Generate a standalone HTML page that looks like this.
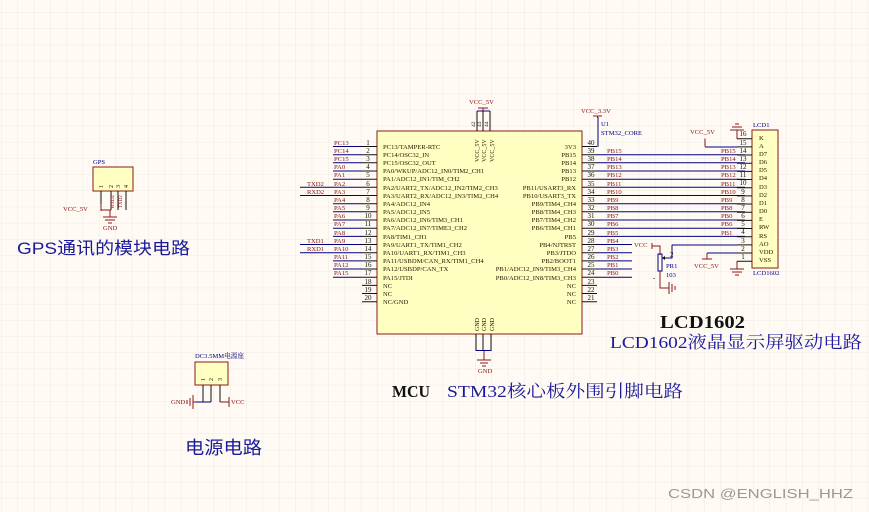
<!DOCTYPE html>
<html><head><meta charset="utf-8"><style>
html,body{margin:0;padding:0;background:#fffaf3}
svg{display:block}
.s{font-family:"Liberation Serif","Noto Serif CJK SC",serif}
.n{font-size:7px;fill:#111}
.p{font-size:6.6px;fill:#2a1400}
.r{font-size:6.6px;fill:#8a1010}
</style></head><body>
<svg width="869" height="512" viewBox="0 0 869 512" xmlns="http://www.w3.org/2000/svg">
<defs>
<pattern id="g" x="1" y="12.3" width="16.35" height="16.2" patternUnits="userSpaceOnUse">
<path d="M0 0V16.2M0 0H16.35" stroke="#eeebe5" stroke-width="1.1" fill="none"/>
</pattern>
</defs>
<rect width="869" height="512" fill="#fffaf3"/>
<rect width="869" height="512" fill="url(#g)"/>

<rect x="377" y="131" width="205" height="203" fill="#ffffc2" stroke="#8b1a1a" stroke-width="1"/>

<g class="s">
<g stroke-width="1" fill="none">
<path stroke="#111" d="M362 146.5h15M362 154.7h15M362 162.8h15M362 171h15M362 179.2h15M362 187.3h15M362 195.5h15M362 203.7h15M362 211.8h15M362 220h15M362 228.2h15M362 236.4h15M362 244.5h15M362 252.7h15M362 260.9h15M362 269h15M362 277.2h15M362 285.4h15M362 293.5h15M362 301.7h15"/>
<path stroke="#000080" d="M333 146.5h29M333 154.7h29M333 162.8h29M333 171h29M333 179.2h29M300 187.3h62M300 195.5h62M333 203.7h29M333 211.8h29M333 220h29M333 228.2h29M333 236.4h29M300 244.5h62M300 252.7h62M333 260.9h29M333 269h29M333 277.2h29"/>
</g>
<g class="n" text-anchor="middle">
<text x="368" y="145">1</text><text x="368" y="153">2</text><text x="368" y="161">3</text><text x="368" y="169">4</text><text x="368" y="177">5</text><text x="368" y="186">6</text><text x="368" y="194">7</text><text x="368" y="202">8</text><text x="368" y="210">9</text><text x="368" y="218">10</text><text x="368" y="226">11</text><text x="368" y="235">12</text><text x="368" y="243">13</text><text x="368" y="251">14</text><text x="368" y="259">15</text><text x="368" y="267">16</text><text x="368" y="275">17</text><text x="368" y="284">18</text><text x="368" y="292">19</text><text x="368" y="300">20</text>
</g>
<g class="r">
<text x="334" y="145">PC13</text><text x="334" y="153">PC14</text><text x="334" y="161">PC15</text><text x="334" y="169">PA0</text><text x="334" y="177">PA1</text><text x="334" y="186">PA2</text><text x="334" y="194">PA3</text><text x="334" y="202">PA4</text><text x="334" y="210">PA5</text><text x="334" y="218">PA6</text><text x="334" y="226">PA7</text><text x="334" y="235">PA8</text><text x="334" y="243">PA9</text><text x="334" y="251">PA10</text><text x="334" y="259">PA11</text><text x="334" y="267">PA12</text><text x="334" y="275">PA15</text>
<text x="307" y="186">TXD2</text><text x="307" y="194">RXD2</text><text x="307" y="243">TXD1</text><text x="307" y="251">RXD1</text>
</g>
<g class="p">
<text x="383" y="149">PC13/TAMPER-RTC</text><text x="383" y="157">PC14/OSC32_IN</text><text x="383" y="165">PC15/OSC32_OUT</text><text x="383" y="173">PA0/WKUP/ADC12_IN0/TIM2_CH1</text><text x="383" y="181">PA1/ADC12_IN1/TIM_CH2</text><text x="383" y="190">PA2/UART2_TX/ADC12_IN2/TIM2_CH3</text><text x="383" y="198">PA3/UART2_RX/ADC12_IN3/TIM2_CH4</text><text x="383" y="206">PA4/ADC12_IN4</text><text x="383" y="214">PA5/ADC12_IN5</text><text x="383" y="222">PA6/ADC12_IN6/TIM3_CH1</text><text x="383" y="230">PA7/ADC12_IN7/TIME3_CH2</text><text x="383" y="239">PA8/TIM1_CH1</text><text x="383" y="247">PA9/UART1_TX/TIM1_CH2</text><text x="383" y="255">PA10/UART1_RX/TIM1_CH3</text><text x="383" y="263">PA11/USBDM/CAN_RX/TIM1_CH4</text><text x="383" y="271">PA12/USBDP/CAN_TX</text><text x="383" y="280">PA15/JTDI</text><text x="383" y="288">NC</text><text x="383" y="296">NC</text><text x="383" y="304">NC/GND</text>
</g>
<g class="p" text-anchor="end">
<text x="576" y="149">3V3</text><text x="576" y="157">PB15</text><text x="576" y="165">PB14</text><text x="576" y="173">PB13</text><text x="576" y="181">PB12</text><text x="576" y="190">PB11/USART3_RX</text><text x="576" y="198">PB10/USART3_TX</text><text x="576" y="206">PB9/TIM4_CH4</text><text x="576" y="214">PB8/TIM4_CH3</text><text x="576" y="222">PB7/TIM4_CH2</text><text x="576" y="230">PB6/TIM4_CH1</text><text x="576" y="239">PB5</text><text x="576" y="247">PB4/NJTRST</text><text x="576" y="255">PB3/JTDO</text><text x="576" y="263">PB2/BOOT1</text><text x="576" y="271">PB1/ADC12_IN9/TIM3_CH4</text><text x="576" y="280">PB0/ADC12_IN8/TIM3_CH3</text><text x="576" y="288">NC</text><text x="576" y="296">NC</text><text x="576" y="304">NC</text>
</g>
<path stroke="#111" fill="none" d="M582 146.5h15M582 154.7h15M582 162.8h15M582 171h15M582 179.2h15M582 187.3h15M582 195.5h15M582 203.7h15M582 211.8h15M582 220h15M582 228.2h15M582 236.4h15M582 244.5h15M582 252.7h15M582 260.9h15M582 269h15M582 277.2h15M582 285.4h15M582 293.5h15M582 301.7h15"/>
<path stroke="#000080" fill="none" d="M597 154.7h148M597 162.8h148M597 171h148M597 179.2h148M597 187.3h148M597 195.5h148M597 203.7h148M597 211.8h148M597 220h148M597 228.2h148M597 236.4h148M597 244.5h35M597 252.7h35M597 260.9h35M597 269h35M597 277.2h35M598 147V117"/>
<g class="n" text-anchor="middle">
<text x="591" y="145">40</text><text x="591" y="153">39</text><text x="591" y="161">38</text><text x="591" y="169">37</text><text x="591" y="177">36</text><text x="591" y="186">35</text><text x="591" y="194">34</text><text x="591" y="202">33</text><text x="591" y="210">32</text><text x="591" y="218">31</text><text x="591" y="226">30</text><text x="591" y="235">29</text><text x="591" y="243">28</text><text x="591" y="251">27</text><text x="591" y="259">26</text><text x="591" y="267">25</text><text x="591" y="275">24</text><text x="591" y="284">23</text><text x="591" y="292">22</text><text x="591" y="300">21</text>
</g>
<g class="r">
<text x="607" y="153">PB15</text><text x="607" y="161">PB14</text><text x="607" y="169">PB13</text><text x="607" y="177">PB12</text><text x="607" y="186">PB11</text><text x="607" y="194">PB10</text><text x="607" y="202">PB9</text><text x="607" y="210">PB8</text><text x="607" y="218">PB7</text><text x="607" y="226">PB6</text><text x="607" y="235">PB5</text><text x="607" y="243">PB4</text><text x="607" y="251">PB3</text><text x="607" y="259">PB2</text><text x="607" y="267">PB1</text><text x="607" y="275">PB0</text>
<text x="721" y="153">PB15</text><text x="721" y="161">PB14</text><text x="721" y="169">PB13</text><text x="721" y="177">PB12</text><text x="721" y="186">PB11</text><text x="721" y="194">PB10</text><text x="721" y="202">PB9</text><text x="721" y="210">PB8</text><text x="721" y="218">PB0</text><text x="721" y="226">PB6</text><text x="721" y="235">PB1</text>
</g>
<text class="r" x="581" y="113">VCC_3.3V</text>
<path d="M593 116h9M597.5 116v2" stroke="#8b1a1a" fill="none"/>
<text class="p" x="601" y="126" style="fill:#000080">U1</text>
<text class="p" x="601" y="135" style="fill:#000080">STM32_CORE</text>

<text class="r" x="469" y="104">VCC_5V</text>
<path d="M478 108h10M483 108v3" stroke="#8b1a1a" fill="none"/>
<path d="M477 111h13" stroke="#000080"/>
<path d="M477 111V131M483 111V131M490 111V131" stroke="#111" fill="none"/>
<g class="n">
<text transform="translate(475,127) rotate(-90)" font-size="5.5">42</text>
<text transform="translate(481,127) rotate(-90)" font-size="5.5">43</text>
<text transform="translate(488,127) rotate(-90)" font-size="5.5">44</text>
</g>
<g class="p">
<text transform="translate(479,162) rotate(-90)" font-size="6">VCC_5V</text>
<text transform="translate(486,162) rotate(-90)" font-size="6">VCC_5V</text>
<text transform="translate(494,162) rotate(-90)" font-size="6">VCC_5V</text>
<text transform="translate(479,331) rotate(-90)" font-size="6">GND</text>
<text transform="translate(486,331) rotate(-90)" font-size="6">GND</text>
<text transform="translate(494,331) rotate(-90)" font-size="6">GND</text>
</g>
<path d="M476 334V351M483 334V351M491 334V351" stroke="#111" fill="none"/>
<path d="M476 350.5h15" stroke="#000080"/>
<path d="M484 351V360M477 360h14M480 363h8M482 366h4" stroke="#8b1a1a" fill="none"/>
<text class="r" x="478" y="373" font-size="5.5">GND</text>

<rect x="752" y="130" width="26" height="138" fill="#ffffc2" stroke="#8b1a1a"/>
<path stroke="#111" fill="none" d="M737 138.7h15M737 146.9h15M737 155h15M737 163.2h15M737 171.4h15M737 179.5h15M737 187.7h15M737 195.9h15M737 204h15M737 212.2h15M737 220.4h15M737 228.5h15M737 236.7h15M737 244.9h15M737 253h15M737 261.2h15"/>
<path stroke="#000080" fill="none" d="M705 147h32M672 245h65M707 253h30"/>
<g class="n" text-anchor="middle">
<text x="743" y="136">16</text><text x="743" y="145">15</text><text x="743" y="153">14</text><text x="743" y="161">13</text><text x="743" y="169">12</text><text x="743" y="177">11</text><text x="743" y="185">10</text><text x="743" y="194">9</text><text x="743" y="202">8</text><text x="743" y="210">7</text><text x="743" y="218">6</text><text x="743" y="226">5</text><text x="743" y="234">4</text><text x="743" y="243">3</text><text x="743" y="251">2</text><text x="743" y="259">1</text>
</g>
<g class="p">
<text x="759" y="140">K</text><text x="759" y="148">A</text><text x="759" y="156">D7</text><text x="759" y="164">D6</text><text x="759" y="172">D5</text><text x="759" y="180">D4</text><text x="759" y="189">D3</text><text x="759" y="197">D2</text><text x="759" y="205">D1</text><text x="759" y="213">D0</text><text x="759" y="221">E</text><text x="759" y="229">RW</text><text x="759" y="238">RS</text><text x="759" y="246">AO</text><text x="759" y="254">VDD</text><text x="759" y="262">VSS</text>
</g>
<text class="p" x="753" y="127" style="fill:#000080">LCD1</text>
<text class="p" x="753" y="275" style="fill:#000080">LCD1602</text>
<path d="M737 139V130M730 130h14M732 127h10M735 124h4" stroke="#8b1a1a" fill="none"/>
<path d="M737 261V269M730 269h14M732 272h10M735 275h4" stroke="#8b1a1a" fill="none"/>
<text class="r" x="690" y="134">VCC_5V</text>
<path d="M705 138.5v8" stroke="#8b1a1a"/>
<text class="r" x="694" y="268">VCC_5V</text>
<path d="M707 253v6M702 259h10" stroke="#8b1a1a" fill="none"/>

<text class="r" x="634" y="247" style="fill:#8b1a1a">VCC</text>
<path d="M652 243v6M652 246h8v9" stroke="#8b1a1a" fill="none"/>
<rect x="658" y="254" width="4" height="17" fill="none" stroke="#000080"/>
<path d="M672 245v13h-8" stroke="#000080" fill="none"/>
<path d="M662 258l3 -2v4z" fill="#111"/>
<text class="n" x="670" y="257" font-size="6">2</text>
<text class="p" x="666" y="268" style="fill:#000080">PR1</text>
<text class="p" x="666" y="277" style="fill:#000080">103</text>
<text class="n" x="653" y="280">-</text>
<path d="M660 271v17h9M669 282v12M672 284v8M675 286v4" stroke="#8b1a1a" fill="none"/>

<text class="p" x="93" y="164" style="fill:#000080" font-size="6">GPS</text>
<rect x="93" y="167" width="40" height="24" fill="#ffffc2" stroke="#8b1a1a"/>
<g class="n"><text transform="translate(103,188) rotate(-90)" font-size="6">1</text><text transform="translate(113,188) rotate(-90)" font-size="6">2</text><text transform="translate(120,188) rotate(-90)" font-size="6">3</text><text transform="translate(128,188) rotate(-90)" font-size="6">4</text></g>
<path d="M101 191v19M111 191v19M118 191v19M126 191v19" stroke="#111" fill="none"/>
<path d="M101 205v5h10" stroke="#8b1a1a" fill="none"/>
<path d="M101 204v7" stroke="#8b1a1a"/>
<text class="r" x="63" y="211">VCC_5V</text>
<path d="M110 210v7M103 217h14M105 220h10M108 223h4" stroke="#8b1a1a" fill="none"/>
<text class="r" x="103" y="230" font-size="6">GND</text>
<g class="r"><text transform="translate(114,208) rotate(-90)" font-size="5">RXD2</text><text transform="translate(122,208) rotate(-90)" font-size="5">TXD2</text></g>

<text class="p" x="195" y="358" style="fill:#000080" font-size="6">DC3.5MM电源座</text>
<rect x="195" y="362" width="33" height="23" fill="#ffffc2" stroke="#8b1a1a"/>
<g class="n"><text transform="translate(205,381) rotate(-90)" font-size="6">1</text><text transform="translate(213,381) rotate(-90)" font-size="6">2</text><text transform="translate(222,381) rotate(-90)" font-size="6">3</text></g>
<path d="M203 385v17M211 385v17M220 385v17" stroke="#111" fill="none"/>
<path d="M196 402h15" stroke="#000080"/>
<path d="M220 402h9M229 397v10M196 402h-3M193 395v14M190 398v8M187 400v4" stroke="#8b1a1a" fill="none"/>
<text class="r" x="171" y="404">GND</text>
<text class="r" x="231" y="404">VCC</text>

<text x="17" y="254" font-size="17" fill="#1a1a9a" textLength="173" lengthAdjust="spacingAndGlyphs" font-family="Liberation Sans,'Noto Sans CJK SC',sans-serif">GPS通讯的模块电路</text>
<text x="185" y="454" font-size="18" fill="#1a1a9a" textLength="77" lengthAdjust="spacingAndGlyphs" font-family="Liberation Sans,'Noto Sans CJK SC',sans-serif">电源电路</text>
<text x="392" y="397" font-size="17" font-weight="bold" fill="#111" textLength="38" lengthAdjust="spacingAndGlyphs">MCU</text>
<text x="447" y="397" font-size="17" fill="#1a1a9a" textLength="236" lengthAdjust="spacingAndGlyphs">STM32核心板外围引脚电路</text>
<text x="660" y="328" font-size="18" font-weight="bold" fill="#111" textLength="85" lengthAdjust="spacingAndGlyphs">LCD1602</text>
<text x="610" y="348" font-size="17" fill="#1a1a9a" textLength="252" lengthAdjust="spacingAndGlyphs">LCD1602液晶显示屏驱动电路</text>
</g>
<text x="668" y="498" font-size="13" fill="#999" textLength="185" lengthAdjust="spacingAndGlyphs" font-family="Liberation Sans,'Noto Sans CJK SC',sans-serif">CSDN @ENGLISH_HHZ</text>
</svg>
</body></html>
